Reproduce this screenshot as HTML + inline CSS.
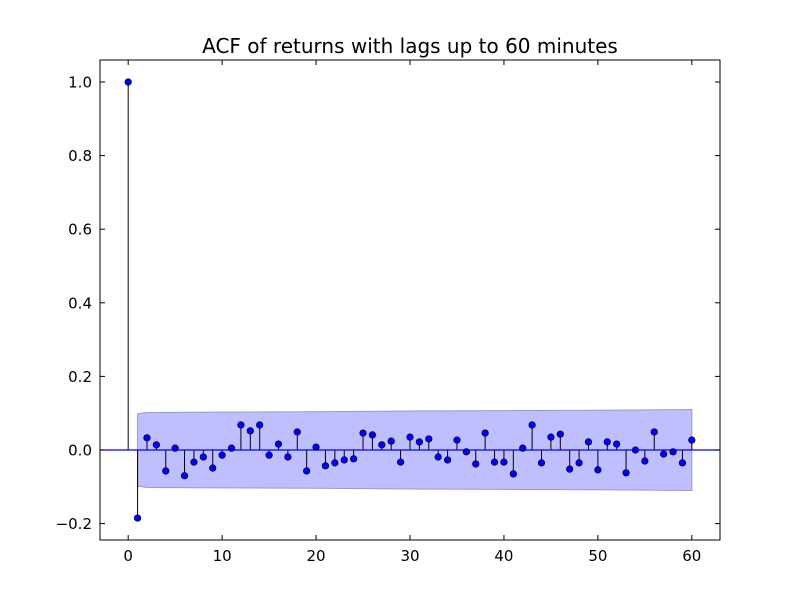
<!DOCTYPE html>
<html><head><meta charset="utf-8"><style>
html,body{margin:0;padding:0;background:#fff}
svg text{font-family:"DejaVu Sans","Liberation Sans",sans-serif}
</style></head><body>
<svg id="chart" width="800" height="600" xmlns="http://www.w3.org/2000/svg">
<rect width="800" height="600" fill="#fff"/>
<text x="410" y="53" text-anchor="middle" font-size="20">ACF of returns with lags up to 60 minutes</text>
<g id="band"></g>
<g id="marks"></g>
<g id="axes"></g>
</svg>
<script>
const lags=[0,1,2,3,4,5,6,7,8,9,10,11,12,13,14,15,16,17,18,19,20,21,22,23,24,25,26,27,28,29,30,31,32,33,34,35,36,37,38,39,40,41,42,43,44,45,46,47,48,49,50,51,52,53,54,55,56,57,58,59,60];
const acfValues=[1.0,-0.185,0.033,0.014,-0.057,0.005,-0.07,-0.033,-0.019,-0.049,-0.014,0.005,0.068,0.052,0.068,-0.014,0.016,-0.019,0.049,-0.057,0.008,-0.043,-0.035,-0.027,-0.024,0.046,0.041,0.014,0.024,-0.033,0.035,0.022,0.03,-0.019,-0.027,0.027,-0.005,-0.038,0.046,-0.033,-0.033,-0.065,0.005,0.068,-0.035,0.035,0.043,-0.052,-0.035,0.022,-0.054,0.022,0.016,-0.062,0.0,-0.03,0.049,-0.011,-0.005,-0.035,0.027];
const bandLags=[1,2,10,20,30,40,50,60];
const bandHalfWidth=[0.098,0.102,0.103,0.104,0.106,0.107,0.108,0.110];
const xTicks=[0,10,20,30,40,50,60];
const yTicks=[-0.2,0.0,0.2,0.4,0.6,0.8,1.0];
const yTickLabels=["\u22120.2","0.0","0.2","0.4","0.6","0.8","1.0"];

const L=100,R=720,T=60,B=540,xmin=-3,xmax=63,ymin=-0.2446,ymax=1.0598;
const X=v=>L+(v-xmin)/(xmax-xmin)*(R-L);
const Y=v=>B-(v-ymin)/(ymax-ymin)*(B-T);
const NS="http://www.w3.org/2000/svg";
function mk(tag,attrs,parent){const e=document.createElementNS(NS,tag);for(const k in attrs)e.setAttribute(k,attrs[k]);parent.appendChild(e);return e;}

const band=document.getElementById('band');
let pts=bandLags.map((l,i)=>X(l)+','+Y(bandHalfWidth[i]));
pts=pts.concat(bandLags.slice().reverse().map((l,i)=>X(l)+','+Y(-bandHalfWidth[bandLags.length-1-i])));
const poly=mk('polygon',{points:pts.join(' '),fill:'#bfbfff',stroke:'#9999cc','stroke-width':1},band);



const marks=document.getElementById('marks');
lags.forEach((l,i)=>{
  const ln=mk('line',{x1:X(l),x2:X(l),y1:Y(0),y2:Y(acfValues[i]),stroke:'#000','stroke-width':1},marks);
  
  
});
const zl=mk('line',{x1:L,x2:R,y1:Y(0),y2:Y(0),stroke:'#0000ff','stroke-width':1.2},marks);


lags.forEach((l,i)=>{
  const c=mk('circle',{cx:X(l),cy:Y(acfValues[i]),r:3.3,fill:'#0000ff',stroke:'#000','stroke-width':0.6},marks);
  
  
});

const axes=document.getElementById('axes');
const fr=mk('rect',{x:L,y:T,width:R-L,height:B-T,fill:'none',stroke:'#000','stroke-width':1},axes);


xTicks.forEach(t=>{
  const x=X(t);
  mk('line',{x1:x,x2:x,y1:B,y2:B-5,stroke:'#000'},axes);
  mk('line',{x1:x,x2:x,y1:T,y2:T+5,stroke:'#000'},axes);
  const tx=mk('text',{x:x,y:B+21,'text-anchor':'middle','font-size':15},axes);
  tx.textContent=t;
  
  
});
yTicks.forEach((t,i)=>{
  const y=Y(t);
  mk('line',{x1:L,x2:L+5,y1:y,y2:y,stroke:'#000'},axes);
  mk('line',{x1:R,x2:R-5,y1:y,y2:y,stroke:'#000'},axes);
  const tx=mk('text',{x:L-8,y:y+5.5,'text-anchor':'end','font-size':15},axes);
  tx.textContent=yTickLabels[i];
  
  
});
</script>
</body></html>
